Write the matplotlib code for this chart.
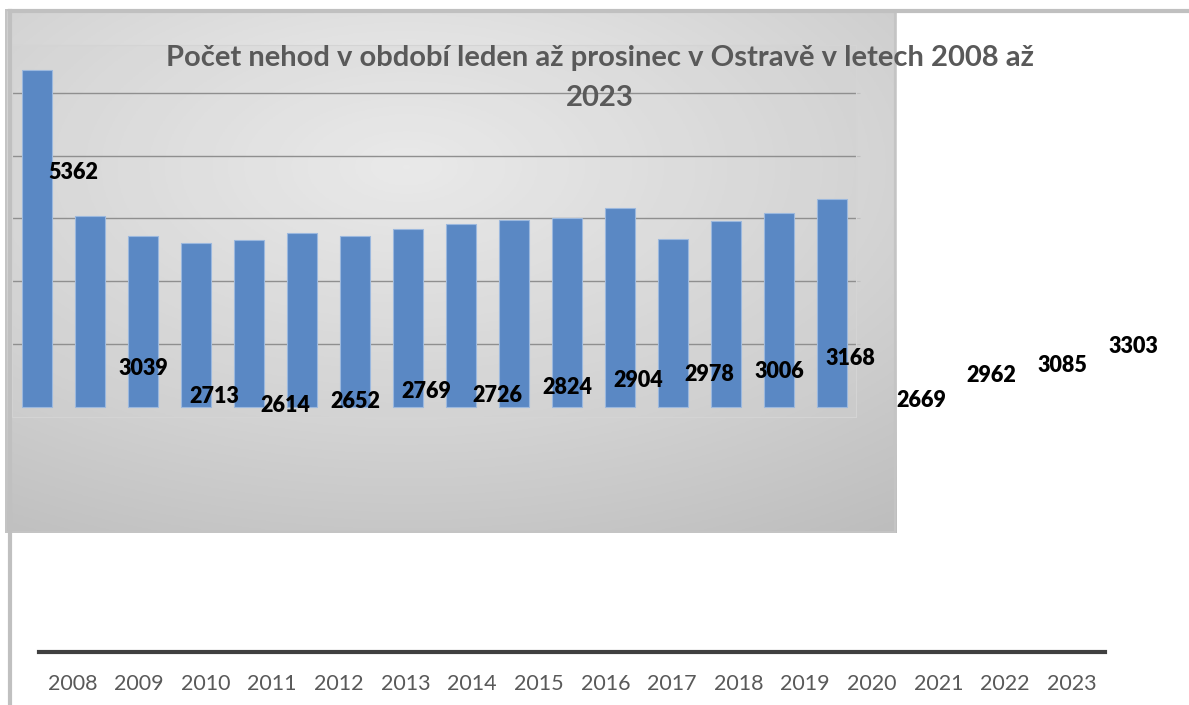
import matplotlib.pyplot as plt
import numpy as np
from matplotlib.lines import Line2D

# data
years = [str(y) for y in range(2008, 2024)]
nehody = [5362, 3039, 2713, 2614, 2652, 2769, 2726, 2824, 2904, 2978,
          3006, 3168, 2669, 2962, 3085, 3303]
title = "Počet nehod v období leden až prosinec v Ostravě v letech 2008 až\n2023"

W, H = 1189, 705
plt.rcParams['font.family'] = ['Lato', 'DejaVu Sans']


def box(x0, y0, x1, y1):
    # pixel box (top-left origin) -> figure fraction rect
    return [x0 / W, 1 - y1 / H, (x1 - x0) / W, (y1 - y0) / H]


fig = plt.figure(figsize=(W / 100, H / 100), dpi=100)

# outer frame lines
fig.add_artist(Line2D([10 / W, 1], [1 - 11 / H, 1 - 11 / H], transform=fig.transFigure,
                      color='#c0c0c0', lw=3))
fig.add_artist(Line2D([10 / W, 10 / W], [0, 1 - 11 / H], transform=fig.transFigure,
                      color='#c0c0c0', lw=3))

# gradient panel
panel = fig.add_axes(box(5, 9, 896, 533))
yy, xx = np.mgrid[0:1:200j, 0:1:300j]
r = np.sqrt(((xx - 0.45) / 1.0) ** 2 + ((yy - 0.3) / 0.9) ** 2)
shade = 0.95 - 0.22 * np.clip(r, 0, 1.1)
panel.imshow(np.dstack([shade] * 3), aspect='auto', extent=[0, 1, 0, 1], origin='upper')
panel.set_xlim(0, 1)
panel.set_ylim(0, 1)
panel.axis('off')
panel.add_patch(plt.Rectangle((0, 0), 1, 1, fill=False, ec='#c4c4c4', lw=3))

# inner plot area with bars
ax = fig.add_axes(box(12, 45, 856, 417))
ax.set_facecolor((0.82, 0.82, 0.82, 0.25))
x = np.arange(len(years))
ax.bar(x, nehody, width=0.57, color='#5a88c4', edgecolor='#9bb8de', linewidth=0.8, zorder=3)
ax.set_xlim(-0.47, 15.45)
ax.set_ylim(-160, 5760)
ax.set_yticks([1000, 2000, 3000, 4000, 5000])
ax.grid(axis='y', color='#8f8f8f', lw=1, zorder=1)
ax.tick_params(left=False, bottom=False, labelleft=False, labelbottom=False,
               right=True, length=3, color='#c0c0c0')
for s in ax.spines.values():
    s.set_color('#d4d4d4')

# full-width category axis
cat = fig.add_axes(box(39, 100, 1105, 652))
cat.set_xlim(-0.5, 15.5)
cat.set_xticks(x)
cat.set_xticklabels(years, fontsize=15.5, color='#595959')
cat.tick_params(axis='x', length=0, pad=16)
cat.set_yticks([])
cat.patch.set_alpha(0)
for side in ['top', 'left', 'right']:
    cat.spines[side].set_visible(False)
cat.spines['bottom'].set_color('#404040')
cat.spines['bottom'].set_linewidth(3)

# data labels
lab = fig.add_axes(box(37.7, 117.9, 1168.3, 626.7))
lab.set_xlim(-0.5, 15.5)
lab.set_ylim(0, 6000)
lab.axis('off')
for i, v in enumerate(nehody):
    lab.text(i, v, str(v), ha='center', va='center', fontsize=15.5,
             fontweight='heavy', color='black')

fig.text(600 / W, 1 - 78 / H, title, ha='center', va='center', fontsize=21,
         fontweight='bold', color='#595959', linespacing=1.62)

fig.savefig('out.png', dpi=100)
